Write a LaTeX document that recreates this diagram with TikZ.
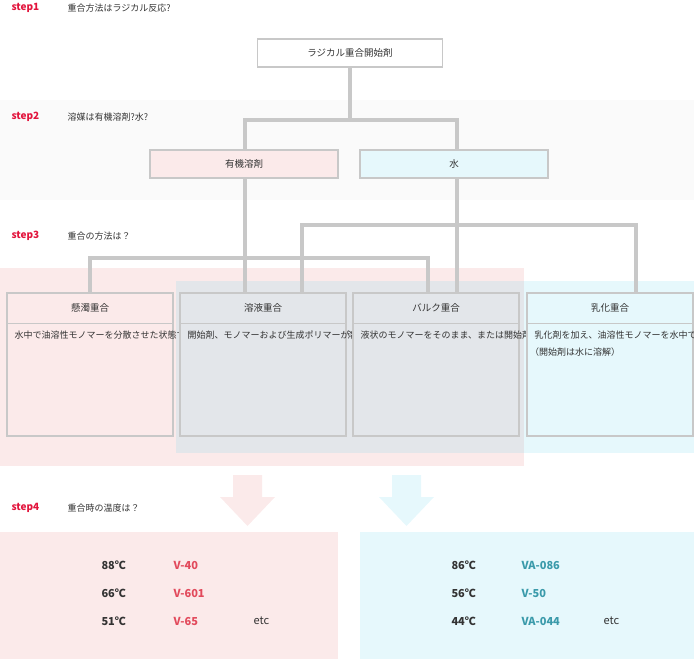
\documentclass[tikz,border=0pt]{standalone}
\usepackage{fontspec}
\setmainfont{Noto Sans CJK JP}
\begin{document}
\definecolor{stepred}{HTML}{E2143C}
\definecolor{pinkbg}{HTML}{FBEAEA}
\definecolor{bluebg}{HTML}{E6F8FC}
\definecolor{greybg}{HTML}{E3E6EA}
\definecolor{ln}{HTML}{C8C8C8}
\definecolor{codered}{HTML}{E24A5C}
\definecolor{codeteal}{HTML}{3A9AAA}
\definecolor{txt}{HTML}{333333}
\begin{tikzpicture}[x=1pt,y=-1pt,
  steplbl/.style={anchor=west,font=\fontsize{10}{12}\selectfont\bfseries,text=stepred},
  q/.style={anchor=west,font=\fontsize{9}{11}\selectfont,text=txt},
  conn/.style={draw=ln,line width=4pt},
  box/.style={draw=ln,line width=1.2pt,minimum height=28pt,font=\fontsize{9.5}{11}\selectfont,text=txt},
  mbox/.style={draw=ln,line width=1.2pt},
  body/.style={anchor=north west,text width=140pt,align=left,font=\fontsize{9}{17}\selectfont,text=txt},
  temp/.style={anchor=west,font=\fontsize{11}{13}\selectfont\bfseries,text=txt},
  codeR/.style={anchor=west,font=\fontsize{11}{13}\selectfont\bfseries,text=codered},
  codeB/.style={anchor=west,font=\fontsize{11}{13}\selectfont\bfseries,text=codeteal},
  etc/.style={anchor=west,font=\fontsize{11}{13}\selectfont,text=txt}]
\useasboundingbox (0,0) rectangle (694,659);
% backgrounds
\fill[black!2] (0,100) rectangle (694,200);
\fill[pinkbg] (0,268) rectangle (524,466);
\fill[greybg] (176,281) rectangle (524,453);
\fill[bluebg] (524,281) rectangle (694,453);
% step labels
\node[steplbl] (s1) at (8,8) {step1}; \node[q] (q1) at (64,8) {重合方法はラジカル反応?};
\node[steplbl] (s2) at (8,117) {step2}; \node[q] (q2) at (64,117) {溶媒は有機溶剤?水?};
\node[steplbl] (s3) at (8,236) {step3}; \node[q] (q3) at (64,236) {重合の方法は？};
\node[steplbl] (s4) at (8,508) {step4}; \node[q] (q4) at (64,508) {重合時の温度は？};
% connectors
\coordinate (j1) at (350,120); \coordinate (j1l) at (245,120); \coordinate (j1r) at (457,120);
\coordinate (j2l) at (302,225); \coordinate (j2r) at (636,225);
\coordinate (j3l) at (90,258); \coordinate (j3r) at (428,258);
\draw[conn] (350,68) -- (j1);
\draw[conn] (245,150) -- (j1l) -- (j1r) -- (457,150);
\draw[conn] (245,178) -- (245,293);
\draw[conn] (457,178) -- (457,293);
\draw[conn] (302,293) -- (j2l) -- (j2r) -- (636,293);
\draw[conn] (90,293) -- (j3l) -- (j3r) -- (428,293);
% nodes
\node[box,fill=white,minimum width=185pt] (top) at (350,53) {ラジカル重合開始剤};
\node[box,fill=pinkbg,minimum width=188pt] (org) at (244,164) {有機溶剤};
\node[box,fill=bluebg,minimum width=188pt] (wat) at (454,164) {水};
% method boxes
\foreach \n/\x/\c/\t/\b in {
  sus/7/pinkbg/懸濁重合/{水中で油溶性モノマーを分散させた状態で加熱する重合方法（開始剤はモノマーに溶解）},
  sol/180/greybg/溶液重合/{開始剤、モノマーおよび生成ポリマーがすべて溶解した状態で行う重合方法},
  bul/353/greybg/バルク重合/{液状のモノマーをそのまま、または開始剤を加えて行う重合方法},
  emu/527/bluebg/乳化重合/{乳化剤を加え、油溶性モノマーを水中で分散させて行う重合方法\\\hspace*{-0.5em}（開始剤は水に溶解）}}{
  \draw[mbox,fill=\c] (\x,293) rectangle (\x+166,436);
  \draw[ln,line width=0.8pt] (\x,323) -- (\x+166,323);
  \node[font=\fontsize{9.5}{11}\selectfont,text=txt] (\n) at (\x+83,308) {\t};
  \node[body] (\n b) at (\x+4,327) {\b};
}
% arrows
\fill[pinkbg] (233,475) rectangle (262,497) (220,497) -- (275,497) -- (247.5,526) -- cycle;
\fill[bluebg] (392,475) rectangle (421,497) (379,497) -- (434,497) -- (406.5,526) -- cycle;
% bottom panels
\fill[pinkbg] (0,532) rectangle (338,659);
\fill[bluebg] (360,532) rectangle (694,659);
\node[temp] (t1) at (98,565) {88℃}; \node[codeR] (c1) at (170,565) {V-40};
\node[temp] (t2) at (98,593) {66℃}; \node[codeR] (c2) at (170,593) {V-601};
\node[temp] (t3) at (98,621) {51℃}; \node[codeR] (c3) at (170,621) {V-65};
\node[etc] (e1) at (250,621) {etc};
\node[temp] (t4) at (448,565) {86℃}; \node[codeB] (c4) at (518,565) {VA-086};
\node[temp] (t5) at (448,593) {56℃}; \node[codeB] (c5) at (518,593) {V-50};
\node[temp] (t6) at (448,621) {44℃}; \node[codeB] (c6) at (518,621) {VA-044};
\node[etc] (e2) at (600,621) {etc};
\end{tikzpicture}
\end{document}
